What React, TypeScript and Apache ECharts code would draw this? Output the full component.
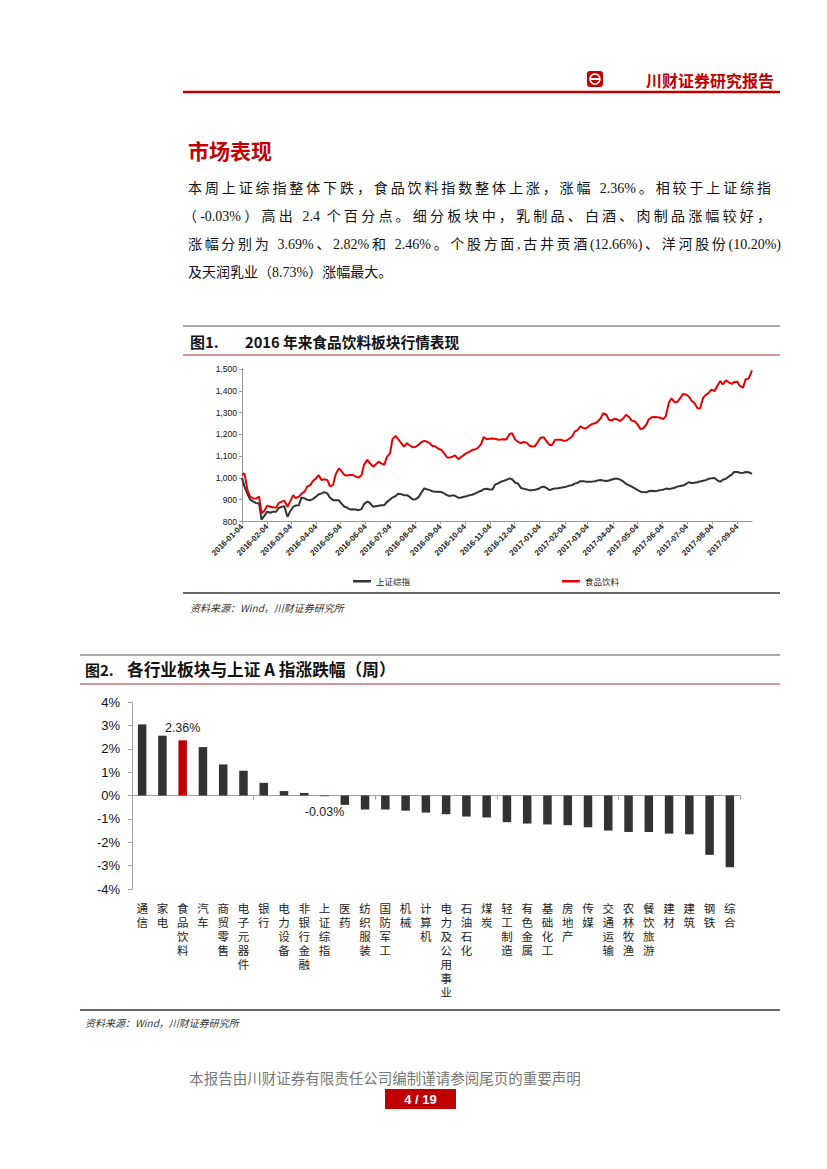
import React, { useEffect, useRef } from "react";
import * as echarts from "echarts";

// ---------- Figure 1 data (readings twice a week, Mon / Thu) ----------
const dates = [
  "2016-01-04", "2016-01-07", "2016-01-11", "2016-01-14", "2016-01-18", "2016-01-21", "2016-01-25", "2016-01-28",
  "2016-02-01", "2016-02-04", "2016-02-08", "2016-02-11", "2016-02-15", "2016-02-18", "2016-02-22", "2016-02-25",
  "2016-02-29", "2016-03-03", "2016-03-07", "2016-03-10", "2016-03-14", "2016-03-17", "2016-03-21", "2016-03-24",
  "2016-03-28", "2016-03-31", "2016-04-04", "2016-04-07", "2016-04-11", "2016-04-14", "2016-04-18", "2016-04-21",
  "2016-04-25", "2016-04-28", "2016-05-02", "2016-05-05", "2016-05-09", "2016-05-12", "2016-05-16", "2016-05-19",
  "2016-05-23", "2016-05-26", "2016-05-30", "2016-06-02", "2016-06-06", "2016-06-09", "2016-06-13", "2016-06-16",
  "2016-06-20", "2016-06-23", "2016-06-27", "2016-06-30", "2016-07-04", "2016-07-07", "2016-07-11", "2016-07-14",
  "2016-07-18", "2016-07-21", "2016-07-25", "2016-07-28", "2016-08-01", "2016-08-04", "2016-08-08", "2016-08-11",
  "2016-08-15", "2016-08-18", "2016-08-22", "2016-08-25", "2016-08-29", "2016-09-01", "2016-09-05", "2016-09-08",
  "2016-09-12", "2016-09-15", "2016-09-19", "2016-09-22", "2016-09-26", "2016-09-29", "2016-10-03", "2016-10-06",
  "2016-10-10", "2016-10-13", "2016-10-17", "2016-10-20", "2016-10-24", "2016-10-27", "2016-10-31", "2016-11-03",
  "2016-11-07", "2016-11-10", "2016-11-14", "2016-11-17", "2016-11-21", "2016-11-24", "2016-11-28", "2016-12-01",
  "2016-12-05", "2016-12-08", "2016-12-12", "2016-12-15", "2016-12-19", "2016-12-22", "2016-12-26", "2016-12-29",
  "2017-01-02", "2017-01-05", "2017-01-09", "2017-01-12", "2017-01-16", "2017-01-19", "2017-01-23", "2017-01-26",
  "2017-01-30", "2017-02-02", "2017-02-06", "2017-02-09", "2017-02-13", "2017-02-16", "2017-02-20", "2017-02-23",
  "2017-02-27", "2017-03-02", "2017-03-06", "2017-03-09", "2017-03-13", "2017-03-16", "2017-03-20", "2017-03-23",
  "2017-03-27", "2017-03-30", "2017-04-03", "2017-04-06", "2017-04-10", "2017-04-13", "2017-04-17", "2017-04-20",
  "2017-04-24", "2017-04-27", "2017-05-01", "2017-05-04", "2017-05-08", "2017-05-11", "2017-05-15", "2017-05-18",
  "2017-05-22", "2017-05-25", "2017-05-29", "2017-06-01", "2017-06-05", "2017-06-08", "2017-06-12", "2017-06-15",
  "2017-06-19", "2017-06-22", "2017-06-26", "2017-06-29", "2017-07-03", "2017-07-06", "2017-07-10", "2017-07-13",
  "2017-07-17", "2017-07-20", "2017-07-24", "2017-07-27", "2017-07-31", "2017-08-03", "2017-08-07", "2017-08-10",
  "2017-08-14", "2017-08-17", "2017-08-21", "2017-08-24", "2017-08-28", "2017-08-31", "2017-09-04", "2017-09-07",
  "2017-09-11", "2017-09-14", "2017-09-18", "2017-09-22"
];

const shIndex = [
  1000, 960, 925, 900, 891, 885, 883, 809, 829, 845, 840, 845, 845, 862, 868, 870,
  821, 845, 868, 873, 875, 910, 906, 900, 898, 903, 914, 924, 929, 935, 929, 910,
  898, 898, 898, 883, 868, 864, 855, 856, 855, 852, 857, 880, 891, 886, 868, 870,
  872, 875, 875, 889, 901, 910, 917, 927, 925, 921, 921, 913, 901, 902, 911, 929,
  952, 948, 944, 939, 937, 937, 935, 930, 921, 917, 920, 918, 909, 909, 914, 916,
  921, 923, 929, 935, 941, 948, 950, 947, 947, 969, 975, 982, 987, 991, 998, 994,
  978, 975, 954, 951, 947, 944, 944, 946, 949, 956, 960, 955, 944, 948, 952, 953,
  955, 957, 960, 964, 967, 974, 978, 985, 985, 983, 983, 983, 985, 988, 990, 988,
  986, 988, 993, 996, 996, 992, 983, 973, 966, 960, 952, 945, 937, 935, 934, 939,
  941, 939, 941, 944, 946, 951, 949, 951, 955, 960, 963, 965, 972, 980, 977, 978,
  980, 984, 987, 990, 996, 998, 1000, 990, 982, 992, 996, 1005, 1015, 1027, 1027, 1024,
  1023, 1027, 1026, 1019
];

const foodIndex = [
  1015, 1021, 940, 914, 906, 905, 914, 837, 852, 873, 868, 864, 864, 884, 891, 895,
  868, 890, 921, 907, 914, 927, 937, 960, 967, 985, 998, 1013, 990, 994, 990, 962,
  967, 1015, 1044, 1033, 1013, 1011, 1013, 1014, 1006, 1001, 1013, 1060, 1083, 1069, 1052, 1060,
  1075, 1067, 1060, 1095, 1113, 1178, 1193, 1178, 1159, 1144, 1159, 1150, 1141, 1142, 1152, 1163,
  1170, 1167, 1159, 1147, 1144, 1135, 1129, 1115, 1095, 1093, 1098, 1104, 1086, 1095, 1106, 1114,
  1121, 1128, 1132, 1138, 1155, 1187, 1178, 1180, 1181, 1180, 1175, 1176, 1178, 1176, 1202, 1205,
  1175, 1167, 1159, 1165, 1162, 1149, 1144, 1145, 1167, 1185, 1187, 1170, 1152, 1150, 1175, 1175,
  1175, 1171, 1172, 1180, 1190, 1213, 1221, 1237, 1228, 1228, 1239, 1247, 1251, 1257, 1274, 1297,
  1290, 1267, 1264, 1272, 1267, 1262, 1274, 1290, 1279, 1263, 1259, 1247, 1224, 1227, 1244, 1268,
  1279, 1280, 1279, 1276, 1270, 1284, 1347, 1365, 1347, 1348, 1367, 1385, 1382, 1375, 1353, 1345,
  1320, 1319, 1368, 1380, 1391, 1405, 1399, 1420, 1445, 1429, 1448, 1440, 1432, 1440, 1442, 1422,
  1414, 1452, 1457, 1494
];

const monthTicks = [
  "2016-01-04", "2016-02-04", "2016-03-04", "2016-04-04", "2016-05-04", "2016-06-04", "2016-07-04",
  "2016-08-04", "2016-09-04", "2016-10-04", "2016-11-04", "2016-12-04", "2017-01-04", "2017-02-04",
  "2017-03-04", "2017-04-04", "2017-05-04", "2017-06-04", "2017-07-04", "2017-08-04", "2017-09-04"
];

const lineSeriesNames = ["上证综指", "食品饮料"];

// ---------- Figure 2 data ----------
const industries = [
  "通信", "家电", "食品饮料", "汽车", "商贸零售", "电子元器件", "银行", "电力设备", "非银行金融", "上证综指",
  "医药", "纺织服装", "国防军工", "机械", "计算机", "电力及公用事业", "石油石化", "煤炭", "轻工制造", "有色金属",
  "基础化工", "房地产", "传媒", "交通运输", "农林牧渔", "餐饮旅游", "建材", "建筑", "钢铁", "综合"
];

const weeklyChange = [
  3.04, 2.56, 2.36, 2.07, 1.33, 1.06, 0.54, 0.19, 0.11, -0.03,
  -0.40, -0.60, -0.60, -0.65, -0.73, -0.80, -0.90, -0.94, -1.14, -1.20,
  -1.24, -1.27, -1.36, -1.50, -1.56, -1.56, -1.63, -1.66, -2.54, -3.07
];

const highlighted = ["食品饮料", "上证综指"];
const labelled = ["食品饮料", "上证综指"];

const bodyLines = [
  "本周上证综指整体下跌，食品饮料指数整体上涨，涨幅 2.36%。相较于上证综指",
  "（-0.03%）高出 2.4 个百分点。细分板块中，乳制品、白酒、肉制品涨幅较好，",
  "涨幅分别为 3.69%、2.82%和 2.46%。个股方面,古井贡酒(12.66%)、洋河股份(10.20%)",
  "及天润乳业（8.73%）涨幅最大。"
];

const ts = (s: string) => {
  const [y, m, d] = s.split("-").map(Number);
  return Date.UTC(y, m - 1, d);
};
const DAY = 86400000;
const START = ts(dates[0]);
const dayOf = (s: string) => Math.round((ts(s) - START) / DAY);
const pad = (n: number) => (n < 10 ? "0" + n : "" + n);
const fmtDay = (v: number) => {
  const d = new Date(START + Math.round(v) * DAY);
  return d.getUTCFullYear() + "-" + pad(d.getUTCMonth() + 1) + "-" + pad(d.getUTCDate());
};

const RED = "#c00000";
const CJK = "'Noto Sans CJK SC', 'Liberation Sans', sans-serif";
const NUM = "'Liberation Sans', 'Noto Sans CJK SC', sans-serif";
const BODY = "'Liberation Serif', 'Noto Sans CJK SC', serif";
const MAX_LABEL_CHARS = 7;

export default function App() {
  const ref = useRef<HTMLDivElement>(null);

  useEffect(() => {
    if (!ref.current) return;
    const chart = echarts.init(ref.current, undefined, { renderer: "svg" });

    const hLine = (x1: number, x2: number, y: number, color: string, w: number) => ({
      type: "line",
      shape: { x1, y1: y, x2, y2: y },
      style: { stroke: color, lineWidth: w },
      silent: true,
    });
    const txt = (x: number, y: number, text: string, st: any) => ({
      type: "text",
      x,
      y,
      style: { text, fontFamily: CJK, verticalAlign: "middle", ...st },
      silent: true,
    });

    const graphics: any[] = [
      { type: "rect", shape: { x: 587, y: 71, width: 16, height: 16, r: 3 }, style: { fill: RED } },
      { type: "circle", shape: { cx: 595, cy: 79, r: 5 }, style: { fill: "none", stroke: "#fff", lineWidth: 1.6 } },
      { type: "rect", shape: { x: 590, y: 78, width: 10, height: 2 }, style: { fill: "#fff" } },
      txt(646, 80, "川财证券研究报告", { fill: RED, fontSize: 16, fontWeight: "bold" }),
      hLine(183, 780, 92, RED, 2.5),
      txt(188, 150, "市场表现", { fill: RED, fontSize: 21, fontWeight: "bold" }),
      hLine(183, 780, 326, "#555", 1),
      txt(190, 341, "图1.", { fill: "#111", fontSize: 15, fontWeight: "bold" }),
      txt(245, 341, "2016 年来食品饮料板块行情表现", { fill: "#111", fontSize: 14.7, fontWeight: "bold" }),
      hLine(183, 780, 355, "#b03030", 1),
      hLine(183, 780, 593, "#333", 1.5),
      txt(190, 607, "资料来源：Wind，川财证券研究所", { fill: "#333", fontSize: 10, fontStyle: "italic" }),
      hLine(80, 780, 655, "#555", 1),
      txt(85, 669, "图2.", { fill: "#111", fontSize: 15, fontWeight: "bold" }),
      txt(127, 669, "各行业板块与上证 A 指涨跌幅（周）", { fill: "#111", fontSize: 16.7, fontWeight: "bold" }),
      hLine(80, 780, 684, "#b03030", 1),
      hLine(80, 780, 1010, "#333", 1.5),
      txt(85, 1022, "资料来源：Wind，川财证券研究所", { fill: "#333", fontSize: 10, fontStyle: "italic" }),
      txt(385, 1077, "本报告由川财证券有限责任公司编制谨请参阅尾页的重要声明", {
        fill: "#777", fontSize: 14.5, align: "center",
      }),
      { type: "rect", shape: { x: 385, y: 1089, width: 71, height: 20 }, style: { fill: RED } },
      txt(420.5, 1099, "4 / 19", { fill: "#fff", fontSize: 13, fontWeight: "bold", align: "center", fontFamily: NUM }),
    ];

    const barData = weeklyChange.map((v, i) => {
      const name = industries[i];
      const item: any = {
        value: v,
        itemStyle: { color: highlighted.includes(name) ? RED : "#333333" },
      };
      if (labelled.includes(name)) {
        item.label = {
          show: true,
          position: v >= 0 ? "top" : "bottom",
          distance: v >= 0 ? 6 : 10,
          formatter: (p: any) => Number(p.value).toFixed(2) + "%",
          fontSize: 12.5,
          color: "#222",
          fontFamily: NUM,
        };
      }
      return item;
    });

    const tickDays = monthTicks.map(dayOf);

    // one label row per character: vertical, upright category names
    const charAxes = Array.from({ length: MAX_LABEL_CHARS }, (_, ci) => ({
      type: "category",
      gridIndex: 1,
      position: "bottom",
      offset: ci * 14,
      data: industries,
      axisLine: { show: false, onZero: false },
      axisTick: { show: false },
      axisLabel: {
        interval: 0,
        margin: 12,
        fontSize: 11.5,
        lineHeight: 13,
        color: "#222",
        fontFamily: CJK,
        verticalAlign: "top",
        formatter: (v: string) => v.charAt(ci),
      },
    }));

    const option: any = {
      animation: false,
      backgroundColor: "#fff",
      textStyle: { fontFamily: NUM },
      graphic: graphics,
      legend: {
        data: lineSeriesNames,
        left: 348,
        top: 572,
        itemGap: 152,
        icon: "rect",
        itemWidth: 18,
        itemHeight: 2.5,
        textStyle: { fontSize: 8.5, color: "#222", fontFamily: CJK },
      },
      grid: [
        { left: 242, right: 75, top: 369, bottom: 1169 - 521.5 },
        { left: 132, right: 87, top: 702, bottom: 1169 - 889 },
      ],
      xAxis: [
        {
          type: "value",
          gridIndex: 0,
          min: 0,
          max: dayOf(dates[dates.length - 1]),
          axisLine: { lineStyle: { color: "#999", width: 1 } },
          axisTick: {
            show: true,
            length: 3,
            customValues: tickDays,
            lineStyle: { color: "#999" },
          },
          axisLabel: {
            customValues: tickDays,
            formatter: (v: number) => fmtDay(v),
            rotate: 45,
            fontSize: 8,
            fontWeight: "bold",
            color: "#222",
            margin: 4,
            showMinLabel: true,
            showMaxLabel: true,
          },
          splitLine: { show: false },
        },
        {
          type: "category",
          gridIndex: 1,
          data: industries,
          axisLine: { onZero: true, lineStyle: { color: "#a0a0a0", width: 1 } },
          axisTick: { show: true, length: 4, lineStyle: { color: "#a0a0a0" } },
          axisLabel: { show: false },
        },
        ...charAxes,
      ],
      yAxis: [
        {
          type: "value",
          gridIndex: 0,
          min: 800,
          max: 1500,
          interval: 100,
          axisLine: { show: true, lineStyle: { color: "#999" } },
          axisTick: { show: true, length: 3, lineStyle: { color: "#999" } },
          axisLabel: {
            fontSize: 8.5,
            color: "#111",
            margin: 5,
            formatter: (v: number) => v.toLocaleString("en-US"),
          },
          splitLine: { show: false },
        },
        {
          type: "value",
          gridIndex: 1,
          min: -4,
          max: 4,
          interval: 1,
          axisLine: { show: true, lineStyle: { color: "#a0a0a0" } },
          axisTick: { show: true, length: 4, lineStyle: { color: "#a0a0a0" } },
          axisLabel: { fontSize: 13, color: "#111", margin: 12, formatter: "{value}%" },
          splitLine: { show: false },
        },
      ],
      series: [
        {
          name: lineSeriesNames[0],
          type: "line",
          xAxisIndex: 0,
          yAxisIndex: 0,
          data: dates.map((d, i) => [dayOf(d), shIndex[i]]),
          symbol: "none",
          lineStyle: { color: "#333333", width: 2 },
          itemStyle: { color: "#333333" },
        },
        {
          name: lineSeriesNames[1],
          type: "line",
          xAxisIndex: 0,
          yAxisIndex: 0,
          data: dates.map((d, i) => [dayOf(d), foodIndex[i]]),
          symbol: "none",
          lineStyle: { color: "#e60000", width: 2 },
          itemStyle: { color: "#e60000" },
        },
        {
          name: "周涨跌幅",
          type: "bar",
          xAxisIndex: 1,
          yAxisIndex: 1,
          barWidth: 8.5,
          data: barData,
        },
      ],
    };

    chart.setOption(option);
    return () => chart.dispose();
  }, []);

  return (
    <div style={{ position: "absolute", left: 0, top: 0, width: 827, height: 1169, background: "#fff" }}>
      <div ref={ref} style={{ position: "absolute", left: 0, top: 0, width: 827, height: 1169 }} />
      <div
        style={{
          position: "absolute",
          left: 188,
          top: 175,
          width: 583,
          fontSize: 14,
          lineHeight: "28px",
          fontFamily: BODY,
          color: "#111",
        }}
      >
        {bodyLines.map((l, i) => (
          <div
            key={i}
            style={{
              marginLeft: i === 1 ? -5 : 0,
              width: i === 1 ? 588 : i === 2 ? 593 : 583,
              textAlign: i < 3 ? "justify" : "left",
              textAlignLast: i < 3 ? "justify" : "auto",
              whiteSpace: "nowrap",
            }}
          >
            {l}
          </div>
        ))}
      </div>
    </div>
  );
}
